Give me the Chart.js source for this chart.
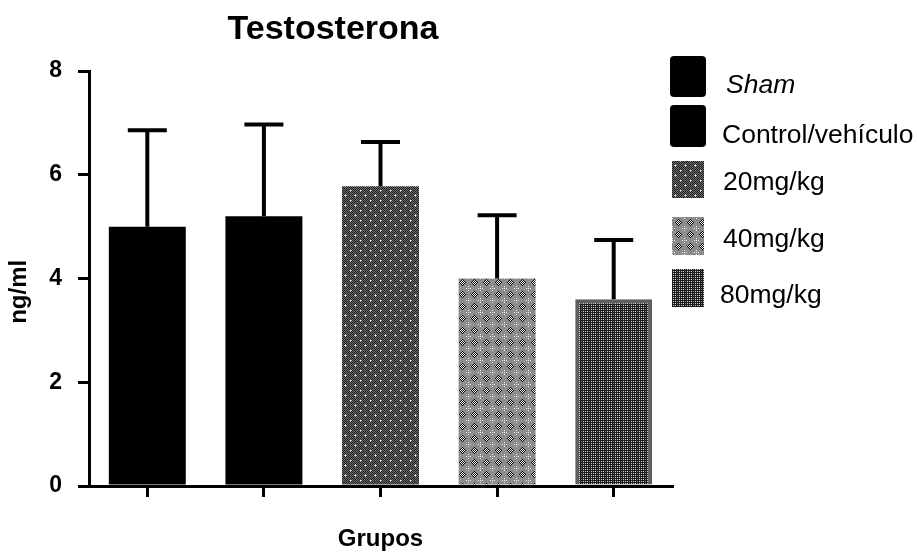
<!DOCTYPE html>
<html>
<head>
<meta charset="utf-8">
<script src="https://cdn.jsdelivr.net/npm/chart.js@4"></script>
<style>
  html, body { margin: 0; padding: 0; background: #fff; }
  canvas { display: block; }
</style>
</head>
<body>
<canvas id="myChart" width="917" height="554"></canvas>
<script>
const groups = ["Sham", "Control/vehículo", "20mg/kg", "40mg/kg", "80mg/kg"];
const means = [5.0, 5.2, 5.78, 4.0, 3.6];
const errors = [1.86, 1.77, 0.85, 1.22, 1.14];
const yTicks = [0, 2, 4, 6, 8];

const FONT = "'Liberation Sans', Arial, sans-serif";

// little bitmap tiles, like the prism fills
function makePattern(size, paint) {
  const c = document.createElement("canvas");
  c.width = size;
  c.height = size;
  const g = c.getContext("2d");
  paint(g, size);
  return g.createPattern(c, "repeat");
}

const px = (g, x, y, col) => {
  g.fillStyle = col;
  g.fillRect(x, y, 1, 1);
};

const fill20 = makePattern(10, (g, n) => {
  for (let y = 0; y < n; y++)
    for (let x = 0; x < n; x++) px(g, x, y, (x + y) % 2 ? "#6e6e6e" : "#1e1e1e");
  [[4, 5], [6, 5], [5, 4], [5, 6], [0, 1], [1, 0]].forEach(([x, y]) => px(g, x, y, "#b4b4b4"));
  [[5, 5], [0, 0]].forEach(([x, y]) => px(g, x, y, "#ffffff"));
});

const fill40 = makePattern(12, (g, n) => {
  g.fillStyle = "#8c8c8c";
  g.fillRect(0, 0, n, n);
  for (let y = 0; y < n; y++)
    for (let x = 0; x < n; x++) {
      if (Math.abs(x - 6) + Math.abs(y - 6) <= 3) px(g, x, y, (x + y) % 2 ? "#000" : "#fff");
    }
  [[0, 0], [0, 2], [2, 0], [10, 0], [0, 10]].forEach(([x, y]) => px(g, x, y, "#f0f0f0"));
});

const fill80 = makePattern(8, (g, n) => {
  g.fillStyle = "#1e1e1e";
  g.fillRect(0, 0, n, n);
  for (let y = 1; y < n; y += 2)
    for (let x = 1; x < n; x += 2) px(g, x, y, x === 5 ? "#7a7a7a" : "#d0d0d0");
});

const fills = ["#000000", "#000000", fill20, fill40, fill80];
const borders = ["#000", "#000", "#000", "#000", "#5e5e5e"];
const borderWidths = [0, 0, 0, 0, 4];

const errorBars = {
  id: "errorBars",
  afterDatasetsDraw(chart) {
    const ctx = chart.ctx;
    const y = chart.scales.y;
    const meta = chart.getDatasetMeta(0);
    ctx.save();
    ctx.strokeStyle = "#000";
    ctx.lineWidth = 4;
    meta.data.forEach((bar, i) => {
      const top = y.getPixelForValue(means[i] + errors[i]);
      ctx.beginPath();
      ctx.moveTo(bar.x, bar.y);
      ctx.lineTo(bar.x, top);
      ctx.moveTo(bar.x - 19.5, top);
      ctx.lineTo(bar.x + 19.5, top);
      ctx.stroke();
    });
    ctx.restore();
  },
};

// title + legend drawn by hand to sit where prism put them
const legendBoxes = [
  { x: 670, y: 56, w: 36, h: 41, tx: 726, ty: 93 },
  { x: 670, y: 105, w: 36, h: 42, tx: 722, ty: 143 },
  { x: 672, y: 161, w: 32, h: 37, tx: 723, ty: 190 },
  { x: 672, y: 217, w: 32, h: 38, tx: 723, ty: 247 },
  { x: 672, y: 269, w: 32, h: 38, tx: 720, ty: 303 },
];

const decorations = {
  id: "decorations",
  afterDraw(chart) {
    const ctx = chart.ctx;
    ctx.save();
    ctx.fillStyle = "#000";
    ctx.textAlign = "center";
    ctx.textBaseline = "alphabetic";
    ctx.font = "bold 34px " + FONT;
    ctx.fillText("Testosterona", 333, 39);

    ctx.textAlign = "left";
    legendBoxes.forEach((b, i) => {
      ctx.fillStyle = fills[i];
      ctx.beginPath();
      ctx.roundRect(b.x, b.y, b.w, b.h, i < 2 ? 4 : 0);
      ctx.fill();
      ctx.fillStyle = "#000";
      ctx.font = (i === 0 ? "italic " : "") + "26.5px " + FONT;
      ctx.fillText(groups[i], b.tx, b.ty);
    });
    ctx.restore();
  },
};

new Chart(document.getElementById("myChart"), {
  type: "bar",
  data: {
    labels: groups,
    datasets: [
      {
        data: means,
        backgroundColor: fills,
        borderColor: borders,
        borderWidth: borderWidths,
        barPercentage: 0.66,
        categoryPercentage: 1,
      },
    ],
  },
  options: {
    responsive: false,
    animation: false,
    layout: { padding: { top: 71, right: 245, left: 0, bottom: 0 } },
    plugins: {
      legend: { display: false },
      title: { display: false },
      tooltip: { enabled: false },
    },
    scales: {
      x: {
        grid: { offset: false, drawOnChartArea: false, tickLength: 11, color: "#000", lineWidth: 3 },
        border: { color: "#000", width: 3 },
        ticks: { display: false },
        title: {
          display: true,
          text: "Grupos",
          color: "#000",
          font: { family: FONT, size: 24, weight: "bold" },
          padding: { top: 29, bottom: 0 },
        },
        afterFit: (s) => {
          s.height = 68;
        },
      },
      y: {
        min: 0,
        max: 8,
        afterBuildTicks: (s) => {
          s.ticks = yTicks.map((v) => ({ value: v }));
        },
        grid: { drawOnChartArea: false, tickLength: 11, color: "#000", lineWidth: 3 },
        border: { color: "#000", width: 3 },
        ticks: {
          color: "#000",
          padding: 16,
          font: { family: FONT, size: 23, weight: "bold" },
        },
        title: {
          display: true,
          // trailing spaces nudge the rotated label down a bit
          text: "ng/ml    ",
          color: "#000",
          font: { family: FONT, size: 24, weight: "bold" },
          padding: { top: 5, bottom: 0 },
        },
        afterFit: (s) => {
          s.width = 89;
        },
      },
    },
  },
  plugins: [errorBars, decorations],
});
</script>
</body>
</html>
